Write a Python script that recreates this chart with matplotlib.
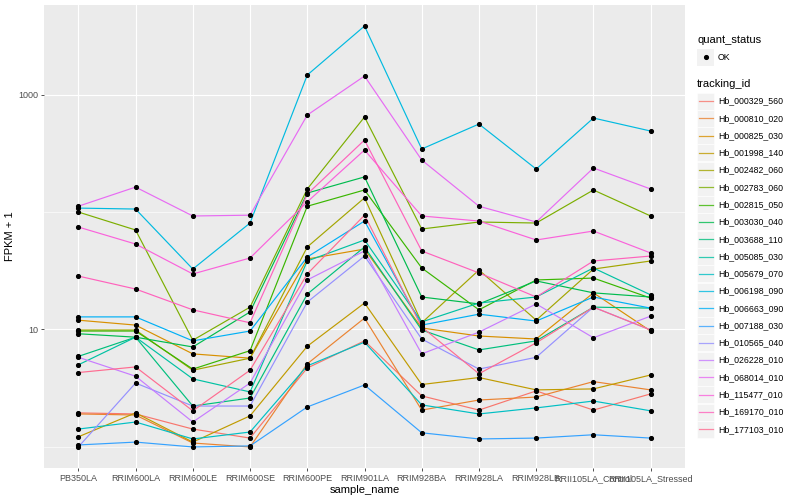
import numpy as np
import matplotlib
matplotlib.use("Agg")
import matplotlib.pyplot as plt
from matplotlib.patches import Rectangle
from matplotlib.ticker import FixedLocator, NullFormatter

plt.rcParams['font.family'] = ['Liberation Sans', 'DejaVu Sans']

samples = ["PB350LA", "RRIM600LA", "RRIM600LE", "RRIM600SE", "RRIM600PE",
           "RRIM901LA", "RRIM928BA", "RRIM928LA", "RRIM928LB",
           "RRII105LA_Control", "RRII105LA_Stressed"]

tracking_ids = ["Hb_000329_560", "Hb_000810_020", "Hb_000825_030", "Hb_001998_140",
                "Hb_002482_060", "Hb_002783_060", "Hb_002815_050", "Hb_003030_040",
                "Hb_003688_110", "Hb_005085_030", "Hb_005679_070", "Hb_006198_090",
                "Hb_006663_090", "Hb_007188_030", "Hb_010565_040", "Hb_026228_010",
                "Hb_068014_010", "Hb_115477_010", "Hb_169170_010", "Hb_177103_010"]

colors = ["#F8766D", "#EA8331", "#D89000", "#C09B00", "#A3A500", "#7CAE00",
          "#39B600", "#00BB4E", "#00BF7D", "#00C1A3", "#00BFC4", "#00BAE0",
          "#00B0F6", "#35A2FF", "#9590FF", "#C77CFF", "#E76BF3", "#FA62DB",
          "#FF62BC", "#FF6C91"]

# FPKM + 1 values, one list per tracking_id, in sample order
hb_000329_560 = [1.95, 1.91, 1.42, 1.19, 4.7, 8.0, 2.72, 2.06, 3.0, 2.06, 2.83]
hb_000810_020 = [1.91, 1.87, 1.08, 1.0, 5.1, 12.5, 2.06, 2.51, 2.66, 3.6, 3.06]
hb_000825_030 = [12.0, 10.9, 6.2, 5.7, 39.8, 48.4, 10.3, 8.8, 8.3, 20.5, 9.7]
hb_001998_140 = [1.22, 1.95, 1.10, 1.84, 7.2, 16.8, 3.4, 3.9, 3.06, 3.12, 4.1]
hb_002482_060 = [9.9, 9.9, 4.5, 5.7, 50.4, 132, 11.4, 32.1, 12.0, 32.7, 38.3]
hb_002783_060 = [100, 70.3, 8.1, 15.5, 157, 644, 71.7, 82.2, 80.6, 154, 92.5]
hb_002815_050 = [9.7, 9.7, 4.6, 6.6, 112, 154, 33.4, 14.7, 26.4, 27.4, 18.5]
hb_003030_040 = [9.2, 8.6, 7.1, 14.1, 145, 199, 18.9, 16.5, 25.9, 20.5, 18.9]
hb_003688_110 = [5.9, 8.6, 2.23, 2.61, 20.0, 50.4, 9.9, 6.7, 8.0, 15.5, 15.2]
hb_005085_030 = [5.0, 8.6, 3.8, 2.94, 38.3, 57.8, 11.6, 16.8, 18.9, 33.4, 19.7]
hb_005679_070 = [1.42, 1.63, 1.17, 1.34, 4.9, 7.8, 2.28, 1.91, 2.15, 2.46, 2.03]
hb_006198_090 = [108, 106, 32.7, 80.6, 1466, 3830, 344, 561, 232, 631, 489]
hb_006663_090 = [12.8, 12.8, 8.0, 9.7, 41.4, 83.8, 10.9, 13.5, 11.8, 18.9, 15.2]
hb_007188_030 = [1.04, 1.10, 1.0, 1.02, 2.19, 3.37, 1.32, 1.17, 1.19, 1.27, 1.19]
hb_010565_040 = [1.0, 3.5, 2.23, 2.23, 17.1, 42.2, 8.3, 4.6, 5.8, 15.5, 9.9]
hb_026228_010 = [5.8, 4.0, 1.63, 3.5, 26.4, 46.6, 6.2, 9.5, 16.5, 8.5, 13.0]
hb_068014_010 = [112, 163, 92.5, 94, 669, 1437, 277, 112, 82.2, 237, 157]
hb_115477_010 = [74.5, 53.4, 29.7, 40.6, 122, 337, 92.5, 83.8, 57.8, 68.9, 44.8]
hb_169170_010 = [28.5, 22.1, 14.7, 11.4, 142, 410, 46.6, 30.3, 18.9, 38.3, 42.2]
hb_177103_010 = [4.3, 4.8, 2.03, 4.5, 29.7, 94, 10.5, 4.2, 7.7, 15.5, 9.9]

series = [hb_000329_560, hb_000810_020, hb_000825_030, hb_001998_140,
          hb_002482_060, hb_002783_060, hb_002815_050, hb_003030_040,
          hb_003688_110, hb_005085_030, hb_005679_070, hb_006198_090,
          hb_006663_090, hb_007188_030, hb_010565_040, hb_026228_010,
          hb_068014_010, hb_115477_010, hb_169170_010, hb_177103_010]

W, H = 800, 500
fig = plt.figure(figsize=(8, 5), dpi=100)
fig.patch.set_facecolor('white')

px_l, px_r, px_t, px_b = 44, 685, 5, 468
ax = fig.add_axes([px_l / W, 1 - px_b / H, (px_r - px_l) / W, (px_b - px_t) / H])
ax.set_facecolor('#EBEBEB')
for s in ax.spines.values():
    s.set_visible(False)
ax.set_axisbelow(True)

x = np.arange(len(samples))
for vals, c in zip(series, colors):
    ax.plot(x, vals, color=c, lw=0.85, zorder=2, solid_capstyle='butt')
for vals in series:
    ax.plot(x, vals, linestyle='none', marker='o', markersize=2.7,
            color='black', zorder=3)

ax.set_yscale('log')
allv = np.log10(np.concatenate([np.asarray(v, float) for v in series]))
lo, hi = allv.min(), allv.max()
pad = 0.05 * (hi - lo)
ax.set_ylim(10 ** (lo - pad), 10 ** (hi + pad))
ax.set_xlim(-0.6, len(samples) - 0.4)

ax.set_xticks(x)
ax.set_xticklabels(samples)
ax.yaxis.set_major_locator(FixedLocator([10, 1000]))
ax.set_yticklabels(['10', '1000'])
ax.yaxis.set_minor_locator(FixedLocator([1, 100]))
ax.yaxis.set_minor_formatter(NullFormatter())
ax.tick_params(which='major', length=2.5, width=0.6, color='#333333',
               labelcolor='#4D4D4D', labelsize=6.5, pad=1.8)
ax.tick_params(which='minor', length=0)
ax.grid(which='major', color='white', lw=0.85)
ax.grid(which='minor', axis='y', color='white', lw=0.45)

ax.set_xlabel('sample_name', fontsize=8, labelpad=1.5)
ax.set_ylabel('FPKM + 1', fontsize=8, labelpad=2)

# legend (ggplot-style) drawn in a pixel-coordinate overlay
lg = fig.add_axes([0, 0, 1, 1], facecolor='none')
lg.set_xlim(0, W)
lg.set_ylim(H, 0)
lg.axis('off')
kx, kw = 697, 17
lg.text(kx, 40, 'quant_status', fontsize=8, va='center', ha='left')
lg.add_patch(Rectangle((kx, 57 - kw / 2), kw, kw, facecolor='#F2F2F2', edgecolor='none'))
lg.plot([kx + kw / 2], [57], marker='o', markersize=2.7, color='black')
lg.text(kx + 21, 57, 'OK', fontsize=6.3, va='center', ha='left')
lg.text(kx, 84, 'tracking_id', fontsize=8, va='center', ha='left')
for i, (tid, c) in enumerate(zip(tracking_ids, colors)):
    cy = 101 + i * 17.28
    lg.add_patch(Rectangle((kx, cy - kw / 2), kw, kw, facecolor='#F2F2F2', edgecolor='white', lw=0.4))
    lg.plot([kx + 1.5, kx + kw - 1.5], [cy, cy], color=c, lw=0.9, alpha=0.8)
    lg.text(kx + 21, cy, tid, fontsize=6.3, va='center', ha='left')

fig.savefig('out.png', dpi=100)
